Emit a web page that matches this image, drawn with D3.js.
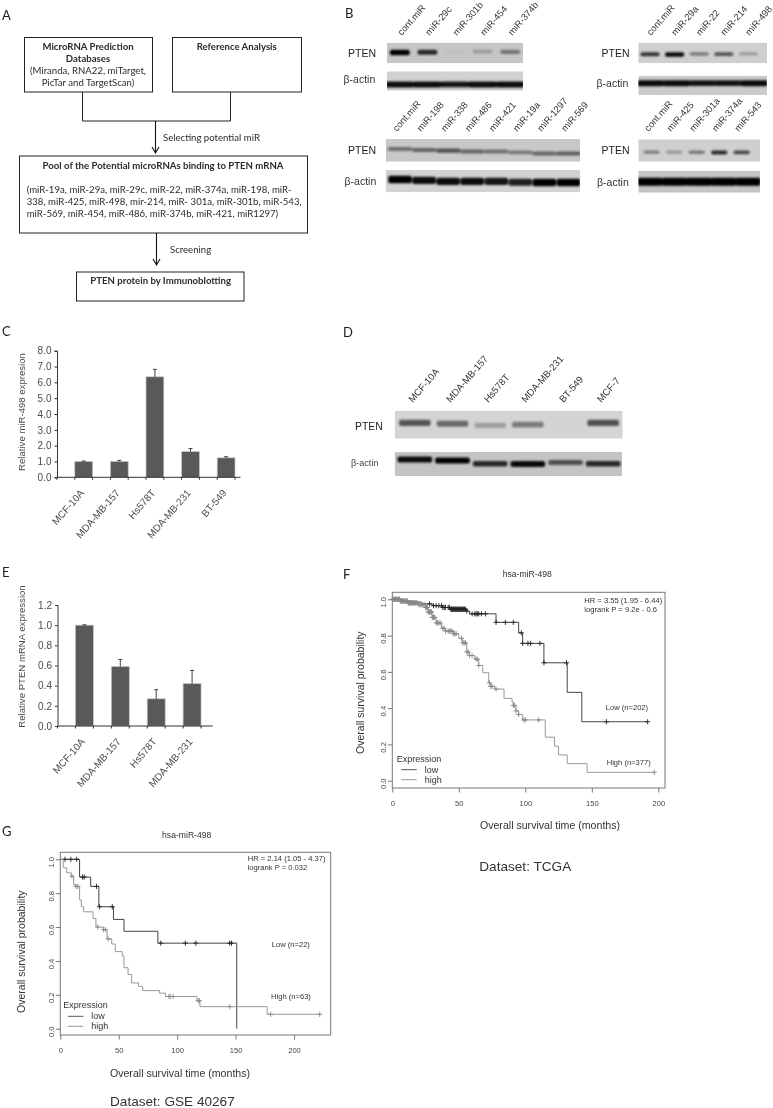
<!DOCTYPE html>
<html>
<head>
<meta charset="utf-8">
<script src="https://d3js.org/d3.v7.min.js"></script>
<style>
  body { margin: 0; background: #fff; }
  svg { display: block; filter: blur(0.35px); }
  text { font-family: "Liberation Sans", Arial, sans-serif; }
  .flow text { font-family: Lato, sans-serif; font-size: 9.6px; fill: #2b2b2b; }
  .letter { font-family: Lato, sans-serif !important; font-size: 13px; fill: #222; }
</style>
</head>
<body>
<div id="chart"></div>
<script>
// panel A text
var flowDatabases = ['MicroRNA Prediction', 'Databases', '(Miranda, RNA22, miTarget,', 'PicTar and  TargetScan)'];
var flowPool = ['(miR-19a, miR-29a, miR-29c, miR-22, miR-374a, miR-198, miR-',
  '338, miR-425, miR-498, mir-214, miR- 301a, miR-301b, miR-543,',
  'miR-569, miR-454, miR-486, miR-374b, miR-421, miR1297)'];

// panel B lanes, band strengths 0-1 read by eye
var b1Lanes = ['cont.miR', 'miR-29c', 'miR-301b', 'miR-454', 'miR-374b'];
var b1Pten = [1, 0.8, 0.04, 0.22, 0.42];
var b1Actin = [0.95, 0.95, 0.9, 0.95, 0.95];
var b2Lanes = ['cont.miR', 'miR-29a', 'miR-22', 'miR-214', 'miR-498'];
var b2Pten = [0.75, 0.95, 0.42, 0.6, 0.25];
var b2Actin = [0.95, 0.95, 0.9, 0.9, 0.95];
var b3Lanes = ['cont.miR', 'miR-198', 'miR-338', 'miR-486', 'miR-421', 'miR-19a', 'miR-1297', 'miR-569'];
var b3Pten = [0.45, 0.5, 0.6, 0.5, 0.45, 0.4, 0.5, 0.55];
var b3Actin = [1, 0.95, 0.95, 0.95, 0.9, 0.85, 1, 1];
var b4Lanes = ['cont.miR', 'miR-425', 'miR-301a', 'miR-374a', 'miR-543'];
var b4Pten = [0.4, 0.28, 0.42, 0.8, 0.65];
var b4Actin = [1, 1, 1, 1, 1];

// panel D
var dLanes = ['MCF-10A', 'MDA-MB-157', 'Hs578T', 'MDA-MB-231', 'BT-549', 'MCF-7'];
var dPten = [0.6, 0.5, 0.25, 0.42, 0, 0.62];
var dActin = [0.95, 1, 0.8, 0.95, 0.6, 0.8];

// panels C and E
var cCells = ['MCF-10A', 'MDA-MB-157', 'Hs578T', 'MDA-MB-231', 'BT-549'];
var cValues = [1.0, 1.0, 6.35, 1.62, 1.23];
var cErrors = [0.03, 0.07, 0.47, 0.2, 0.07];
var cTicks = [0, 1, 2, 3, 4, 5, 6, 7, 8];
var eCells = ['MCF-10A', 'MDA-MB-157', 'Hs578T', 'MDA-MB-231'];
var eValues = [1.0, 0.59, 0.27, 0.42];
var eErrors = [0.004, 0.07, 0.09, 0.13];
var eTicks = [0, 0.2, 0.4, 0.6, 0.8, 1.0, 1.2];

// panel F survival curves: [month, probability] at each step
var fLow = [[0, 1], [8, 0.99], [15, 0.985], [22, 0.975], [30, 0.965], [38, 0.955], [44, 0.945], [56, 0.935], [58, 0.92],
  [78, 0.873], [95, 0.815], [98, 0.757], [114, 0.65], [131.5, 0.487], [142.5, 0.325], [192, 0.325]];
var fHigh = [[0, 1], [6, 0.99], [12, 0.98], [20, 0.97], [25, 0.955], [27, 0.93], [30, 0.9], [33, 0.87], [37, 0.84], [40, 0.825],
  [46, 0.81], [50, 0.785], [53, 0.76], [56, 0.71], [58, 0.69], [62, 0.67], [65, 0.635], [68, 0.595], [72.5, 0.54], [74, 0.52],
  [77, 0.505], [84, 0.454], [90, 0.435], [91, 0.415], [93, 0.385], [95, 0.365], [98, 0.335], [115, 0.24], [122, 0.19],
  [125, 0.142], [131.5, 0.094], [146.5, 0.046], [197, 0.046]];
var fLowCensor = [28, 31, 33, 35, 37, 38, 39, 40, 42, 43, 44, 44.5, 45, 45.5, 46, 46.5, 47, 47.5, 48, 48.5, 49, 49.5, 50, 50.5, 51, 51.5,
  52, 52.5, 53, 53.5, 54, 54.5, 55, 56, 60, 62, 63, 64, 65, 67, 70, 78, 85, 91, 97, 98, 102, 104, 111, 114, 131, 161, 192];
var fHighCensor = [0.5, 1, 1.5, 2, 2.5, 3, 3.5, 4, 4.5, 5, 5.5, 6, 6.5, 7, 7.5, 8, 8.5, 9, 9.5, 10, 10.5, 11, 11.5, 12, 12.5, 13, 13.5, 14,
  14.5, 15, 15.5, 16, 16.5, 17, 17.5, 18, 19, 20, 21, 22, 23, 24, 25, 25.5, 26, 26.5, 27, 27.5, 28, 28.5, 29, 29.5, 30, 30.5, 31, 31.5,
  32, 33, 34, 35, 36, 38, 39, 40, 42, 43, 44, 45, 46, 47, 48, 52, 53, 54, 55, 56, 57,
  58, 60, 63, 64, 65, 73, 74, 75, 78, 91, 92, 93, 95, 99, 100, 110, 197];

// panel G survival curves
var gLow = [[0, 1], [16.5, 0.895], [26, 0.84], [33, 0.72], [45.5, 0.645], [54.5, 0.575], [83.5, 0.505], [151, 0], [151.01, 0]];
var gHigh = [[0, 1], [2.5, 0.95], [5.5, 0.92], [9.5, 0.9], [11.5, 0.85], [13.5, 0.84], [16.5, 0.76], [18, 0.72], [20, 0.69],
  [28, 0.65], [30.5, 0.6], [37, 0.585], [40, 0.53], [44, 0.5], [47, 0.455], [53, 0.43], [54.5, 0.36], [58, 0.32], [61, 0.27],
  [67, 0.25], [70.5, 0.225], [85, 0.21], [90, 0.19], [117, 0.165], [119.5, 0.13], [177, 0.085], [222, 0.085]];
var gLowCensor = [4, 9, 14, 19, 20.5, 31, 33.5, 44.5, 86, 107, 116, 145, 146.5];
var gHighCensor = [10, 13.5, 15, 32, 37, 38.5, 41, 93, 94, 96.5, 118, 119, 145, 180, 222];

var svg = d3.select('#chart').append('svg').attr('width', 773).attr('height', 1108);
var defs = svg.append('defs');
defs.append('filter').attr('id', 'soft').attr('x', '-20%').attr('y', '-100%').attr('width', '140%').attr('height', '300%')
  .append('feGaussianBlur').attr('stdDeviation', 1.3);

function label(x, y, str, size, fill, anchor) {
  return svg.append('text').attr('x', x).attr('y', y).text(str)
    .style('font-size', size + 'px').style('fill', fill || '#333').style('text-anchor', anchor || 'start');
}

[['A', 2, 20], ['B', 345, 18], ['C', 2, 336], ['D', 343, 337], ['E', 2, 577], ['F', 343, 579], ['G', 2, 836]].forEach(function (d) {
  svg.append('text').attr('class', 'letter').attr('x', d[1]).attr('y', d[2]).text(d[0]);
});

// ---- A: flow chart
var flow = svg.append('g').attr('class', 'flow');
function box(x, y, w, h) {
  flow.append('rect').attr('x', x).attr('y', y).attr('width', w).attr('height', h)
    .attr('fill', 'none').attr('stroke', '#222').attr('stroke-width', 1);
}
function flowText(x, y, str, bold, anchor) {
  flow.append('text').attr('x', x).attr('y', y).text(str)
    .style('font-weight', bold ? 700 : 400).style('text-anchor', anchor || 'middle');
}
function arrow(x, y0, y1) {
  flow.append('path').attr('fill', 'none').attr('stroke', '#111').attr('stroke-width', 1.1)
    .attr('d', 'M' + x + ',' + y0 + 'V' + y1 + 'M' + (x - 3.5) + ',' + (y1 - 6) + 'L' + x + ',' + y1 + 'L' + (x + 3.5) + ',' + (y1 - 6));
}
box(24.5, 37.5, 128, 54.5);
box(172.5, 37.5, 129, 54.5);
box(19.5, 156, 288, 77);
box(76.5, 272, 167.5, 29);
flow.append('path').attr('fill', 'none').attr('stroke', '#222').attr('d', 'M82.5,92V121H230.5V92');
arrow(155.5, 121, 153);
arrow(156.5, 233, 265);
flowDatabases.forEach(function (d, i) {
  flowText(88, [50, 62, 74, 86][i], d, i < 2);
});
flowText(236.7, 50, 'Reference Analysis', true);
flowText(163, 140.7, 'Selecting potential miR', false, 'start');
flowText(163, 169, 'Pool of  the Potential microRNAs binding to PTEN mRNA', true);
flowPool.forEach(function (d, i) {
  flowText(26.7, [192.7, 204.5, 216.7][i], d, false, 'start');
});
flowText(170, 252.7, 'Screening', false, 'start');
flowText(160.7, 284.3, 'PTEN protein by Immunoblotting', true);

// ---- B, D: blots
var blotId = 0;
function blot(o) {
  var x = d3.scaleBand().domain(o.lanes).range(o.laneRange);
  var alpha = d3.scaleLinear().domain([0, 1]).range([0, 1]);
  var id = 'clip' + (blotId++);
  defs.append('clipPath').attr('id', id).append('rect')
    .attr('x', o.x0).attr('y', o.y0).attr('width', o.x1 - o.x0).attr('height', o.y1 - o.y0);
  var g = svg.append('g').attr('clip-path', 'url(#' + id + ')');
  g.append('rect').attr('x', o.x0).attr('y', o.y0).attr('width', o.x1 - o.x0).attr('height', o.y1 - o.y0).attr('fill', o.bg);
  g.append('g').attr('filter', 'url(#soft)')
    .selectAll('rect').data(o.values).enter().append('rect')
    .attr('x', function (d, i) { return x(o.lanes[i]) + x.bandwidth() * (1 - o.fill) / 2; })
    .attr('width', x.bandwidth() * o.fill)
    .attr('y', function (d, i) { return o.bandY - o.bandH / 2 + (o.shift ? o.shift[i] : 0); })
    .attr('height', function (d) { return o.bandH * (0.6 + 0.4 * d); })
    .attr('rx', 2)
    .attr('fill', '#000')
    .attr('fill-opacity', function (d) { return alpha(d); });
  if (o.showLabels) {
    svg.append('g').selectAll('text').data(o.lanes).enter().append('text')
      .attr('transform', function (d) {
        return 'translate(' + (x(d) + x.bandwidth() / 2 + o.labelDx) + ',' + o.labelY + ') rotate(-49)';
      })
      .style('font-size', (o.labelSize || 9.4) + 'px').style('fill', '#333')
      .text(function (d) { return d; });
  }
}

blot({ lanes: b1Lanes, values: b1Pten, laneRange: [386, 524], x0: 387, x1: 523, y0: 42.7, y1: 63.3, bg: '#c6c6c6',
  fill: 0.72, bandY: 52.5, bandH: 5.5, showLabels: true, labelDx: 2, labelY: 36 });
blot({ lanes: b1Lanes, values: b1Actin, laneRange: [386, 524], x0: 387, x1: 523, y0: 71.3, y1: 90.7, bg: '#d2d2d2',
  fill: 1.04, bandY: 84.5, bandH: 6 });
blot({ lanes: b2Lanes, values: b2Pten, laneRange: [637.7, 760.7], x0: 638.3, x1: 767, y0: 42.7, y1: 63.3, bg: '#cfcfcf',
  fill: 0.78, bandY: 54.5, bandH: 4.5, showLabels: true, labelDx: 1, labelY: 36 });
blot({ lanes: b2Lanes, values: b2Actin, laneRange: [637.7, 767], x0: 638.3, x1: 767, y0: 75.7, y1: 95, bg: '#cbcbcb',
  fill: 1.04, bandY: 83.3, bandH: 6 });
blot({ lanes: b3Lanes, values: b3Pten, laneRange: [388, 580.5], x0: 385.7, x1: 580, y0: 139, y1: 161.7, bg: '#c8c8c8',
  fill: 1.02, bandY: 152, bandH: 5, shift: [-2.5, -1.5, -1, 0, 0, 1, 2, 2], showLabels: true, labelDx: -3, labelY: 132 });
blot({ lanes: b3Lanes, values: b3Actin, laneRange: [388, 580.5], x0: 385.7, x1: 580, y0: 170, y1: 192.3, bg: '#d2d2d2',
  fill: 0.98, bandY: 181.5, bandH: 7.5, shift: [-2, -1, 0, 0, 0, 1, 1, 1] });
blot({ lanes: b4Lanes, values: b4Pten, laneRange: [640.3, 753], x0: 638.3, x1: 760, y0: 139.3, y1: 161.7, bg: '#cfcfcf',
  fill: 0.72, bandY: 152.7, bandH: 4.5, showLabels: true, labelDx: -3, labelY: 132 });
blot({ lanes: b4Lanes, values: b4Actin, laneRange: [638, 760], x0: 638.3, x1: 760, y0: 170.7, y1: 192.7, bg: '#c4c4c4',
  fill: 1.04, bandY: 181.7, bandH: 8 });

label(348, 57, 'PTEN', 10.5, '#222');
label(343.5, 83, 'β-actin', 10.5, '#333');
label(601.5, 57, 'PTEN', 10.5, '#222');
label(596.5, 87, 'β-actin', 10.5, '#333');
label(348, 154, 'PTEN', 10.5, '#222');
label(344.5, 185, 'β-actin', 10.5, '#333');
label(601.5, 154, 'PTEN', 10.5, '#222');
label(597, 186, 'β-actin', 10.5, '#333');

blot({ lanes: dLanes, values: dPten, laneRange: [396, 622], x0: 394.7, x1: 622.7, y0: 410.7, y1: 438.7, bg: '#d4d4d4',
  fill: 0.84, bandY: 424.5, bandH: 7.5, shift: [-1, 0, 2, 1, 0, -1], showLabels: true, labelDx: -2, labelY: 403, labelSize: 9.6 });
blot({ lanes: dLanes, values: dActin, laneRange: [396, 622], x0: 394.7, x1: 622, y0: 452, y1: 476, bg: '#c4c4c4',
  fill: 0.92, bandY: 462, bandH: 6, shift: [-2.5, -1.5, 2, 2, 1, 2] });
label(355, 430, 'PTEN', 10.4, '#222');
label(351, 466, 'β-actin', 9.1, '#444');

// ---- C, E: bar charts
function barChart(o) {
  var x = d3.scaleBand().domain(o.cells).range(o.xRange).paddingInner(0.5).paddingOuter(0.5);
  var y = d3.scaleLinear().domain(o.yDomain).range(o.yRange);
  var g = svg.append('g');

  g.selectAll('.bar').data(o.values).enter().append('rect')
    .attr('x', function (d, i) { return x(o.cells[i]); })
    .attr('y', function (d) { return y(d); })
    .attr('width', x.bandwidth())
    .attr('height', function (d) { return y(0) - y(d); })
    .attr('fill', '#595959').attr('stroke', '#c4c4c4').attr('stroke-width', 0.7);

  g.selectAll('.err').data(o.errors).enter().append('path')
    .attr('fill', 'none').attr('stroke', '#444').attr('stroke-width', 1)
    .attr('d', function (d, i) {
      var cx = x(o.cells[i]) + x.bandwidth() / 2;
      return 'M' + cx + ',' + y(o.values[i]) + 'V' + y(o.values[i] + d) + 'M' + (cx - 2) + ',' + y(o.values[i] + d) + 'H' + (cx + 2);
    });

  var yAxis = d3.axisLeft(y).tickValues(o.ticks).tickFormat(d3.format('.1f')).tickSize(2.5).tickPadding(3);
  var yGuide = g.append('g').attr('transform', 'translate(' + o.xRange[0] + ',0)').call(yAxis);
  yGuide.selectAll('text').style('font-size', '10px').style('fill', '#4a4a4a');
  yGuide.selectAll('line, path').attr('stroke', '#333');

  // x axis line with the excel style ticks at bar edges
  var base = g.append('g').attr('stroke', '#333');
  base.append('line').attr('x1', o.xRange[0]).attr('x2', o.xEnd).attr('y1', y(0)).attr('y2', y(0)).attr('stroke-width', 1);
  base.append('line').attr('x1', o.xRange[0]).attr('x2', o.xRange[0]).attr('y1', y(0)).attr('y2', y(0) + 2.5);
  o.cells.forEach(function (c) {
    [x(c), x(c) + x.bandwidth()].forEach(function (t) {
      base.append('line').attr('x1', t).attr('x2', t).attr('y1', y(0)).attr('y2', y(0) + 2.5);
    });
  });

  g.selectAll('.xl').data(o.cells).enter().append('text')
    .attr('transform', function (d) {
      return 'translate(' + (x(d) + x.bandwidth() / 2 + 1) + ',' + (y(0) + 16) + ') rotate(-49)';
    })
    .style('text-anchor', 'end').style('font-size', '10px').style('fill', '#4a4a4a')
    .text(function (d) { return d; });

  g.append('text')
    .attr('transform', 'translate(' + o.labelX + ',' + o.labelY + ') rotate(-90)')
    .style('text-anchor', 'middle').style('font-size', o.labelSize + 'px').style('fill', '#4a4a4a')
    .text(o.yLabel);
}

barChart({ cells: cCells, values: cValues, errors: cErrors, ticks: cTicks, yDomain: [0, 8], yRange: [477.3, 350.7],
  xRange: [57, 252.8], xEnd: 240.5, yLabel: 'Relative miR-498 expresion', labelX: 25, labelY: 412, labelSize: 9.6 });
barChart({ cells: eCells, values: eValues, errors: eErrors, ticks: eTicks, yDomain: [0, 1.2], yRange: [726, 605],
  xRange: [57.5, 219], xEnd: 212.7, yLabel: 'Relative PTEN mRNA expression', labelX: 24.5, labelY: 656.5, labelSize: 9.6 });

// ---- F, G: Kaplan-Meier plots
function survival(o) {
  var x = d3.scaleLinear().domain([0, 200]).range(o.xRange);
  var y = d3.scaleLinear().domain([0, 1]).range(o.yRange);
  var line = d3.line().x(function (d) { return x(d[0]); }).y(function (d) { return y(d[1]); }).curve(d3.curveStepAfter);
  var g = svg.append('g');
  var bisect = d3.bisector(function (d) { return d[0]; }).right;

  g.append('rect').attr('x', o.box[0]).attr('y', o.box[1]).attr('width', o.box[2] - o.box[0]).attr('height', o.box[3] - o.box[1])
    .attr('fill', 'none').attr('stroke', '#777').attr('stroke-width', 1);

  [[o.low, o.lowCensor, '#444', '#222'], [o.high, o.highCensor, '#999', '#888']].forEach(function (s) {
    g.append('path').datum(s[0]).attr('fill', 'none').attr('stroke', s[2]).attr('stroke-width', 1).attr('d', line);
    g.selectAll(null).data(s[1]).enter().append('path')
      .attr('fill', 'none').attr('stroke', s[3]).attr('stroke-width', 0.9)
      .attr('d', function (t) {
        var p = s[0][bisect(s[0], t) - 1];
        return 'M' + x(t) + ',' + (y(p[1]) - 2.6) + 'v5.2M' + (x(t) - 2.6) + ',' + y(p[1]) + 'h5.2';
      });
  });

  var xAxis = d3.axisBottom(x).tickValues(o.xTicks).tickSize(4.5).tickPadding(8);
  var xGuide = g.append('g').attr('transform', 'translate(0,' + o.box[3] + ')').call(xAxis);
  var yAxis = d3.axisLeft(y).tickValues([0, 0.2, 0.4, 0.6, 0.8, 1]).tickFormat(d3.format('.1f')).tickSize(4.5).tickPadding(2);
  var yGuide = g.append('g').attr('transform', 'translate(' + o.box[0] + ',0)').call(yAxis);
  xGuide.selectAll('.domain').remove();
  yGuide.selectAll('.domain').remove();
  xGuide.selectAll('line').attr('stroke', '#777');
  yGuide.selectAll('line').attr('stroke', '#777');
  xGuide.selectAll('text').style('font-size', '7.6px').style('fill', '#444');
  yGuide.selectAll('text').style('font-size', '7.6px').style('fill', '#444')
    .style('text-anchor', 'middle')
    .attr('transform', function () {
      return 'rotate(-90 ' + d3.select(this).attr('x') + ' 0)';
    })
    .attr('dy', 0).attr('x', -9);

  label(o.titleX, o.titleY, 'hsa-miR-498', 8.6, '#333', 'middle');
  label(o.hrX, o.hrY[0], o.hr[0], 7.6, '#333');
  label(o.hrX, o.hrY[1], o.hr[1], 7.6, '#333');
  label(o.lowLabel[0], o.lowLabel[1], o.lowLabel[2], 7.6, '#333');
  label(o.highLabel[0], o.highLabel[1], o.highLabel[2], 7.6, '#333');
  label(o.xLabel[0], o.xLabel[1], 'Overall survival time (months)', 10.6, '#333', 'middle');
  g.append('text').attr('transform', 'translate(' + o.yLabel[0] + ',' + o.yLabel[1] + ') rotate(-90)')
    .style('text-anchor', 'middle').style('font-size', '10.5px').style('fill', '#333')
    .text('Overall survival probability');

  // legend
  label(o.legend[0], o.legend[1], 'Expression', 9, '#333');
  [['low', '#555', 0], ['high', '#999', 1]].forEach(function (d) {
    var ly = o.legend[1] + 8 + d[2] * 10;
    g.append('line').attr('x1', o.legend[0] + 4.5).attr('x2', o.legend[0] + 20).attr('y1', ly).attr('y2', ly)
      .attr('stroke', d[1]).attr('stroke-width', 1);
    label(o.legend[0] + 28, ly + 3, d[0], 9, '#333');
  });
  label(o.dataset[0], o.dataset[1], o.dataset[2], 13.6, '#333');
}

survival({ low: fLow, high: fHigh, lowCensor: fLowCensor, highCensor: fHighCensor, xRange: [392.3, 658.3], yRange: [780.7, 599.3],
  box: [392.3, 592.3, 665, 788], xTicks: [0, 50, 100, 150, 200], titleX: 527.3, titleY: 576.7,
  hrX: 584.3, hrY: [602.7, 612.3], hr: ['HR = 3.55 (1.95 - 6.44)', 'logrank P = 9.2e - 0.6'],
  lowLabel: [605.7, 710.3, 'Low (n=202)'], highLabel: [606.7, 765, 'High (n=377)'],
  xLabel: [550, 829.3], yLabel: [364, 692.7], legend: [396.7, 761.7], dataset: [479.3, 871, 'Dataset: TCGA'] });

survival({ low: gLow, high: gHigh, lowCensor: gLowCensor, highCensor: gHighCensor, xRange: [60.3, 294], yRange: [1028.7, 859.3],
  box: [60.3, 852.3, 330.7, 1035], xTicks: [0, 50, 100, 150, 200], titleX: 186.7, titleY: 838.3,
  hrX: 247.7, hrY: [861.3, 870.3], hr: ['HR = 2.14 (1.05 - 4.37)', 'logrank P = 0.032'],
  lowLabel: [271.7, 947.3, 'Low (n=22)'], highLabel: [271, 999.3, 'High (n=63)'],
  xLabel: [180, 1077], yLabel: [25, 951.7], legend: [63.3, 1008.3], dataset: [110, 1106, 'Dataset: GSE 40267'] });
</script>
</body>
</html>
